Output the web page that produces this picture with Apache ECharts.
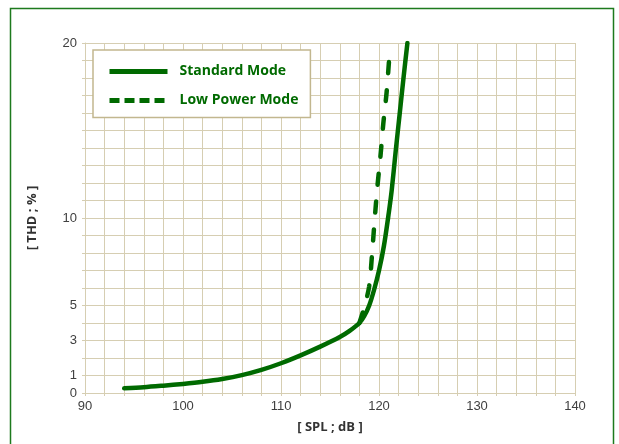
<!DOCTYPE html>
<html><head><meta charset="utf-8">
<script src="https://cdn.jsdelivr.net/npm/echarts@6/dist/echarts.min.js"></script>
<style>html,body{margin:0;padding:0;background:#fff}#c{width:619px;height:444px}</style>
</head><body><div id="c"></div>
<script>
const xTickLabels = [90, 100, 110, 120, 130, 140];
const yTickLabels = [0, 1, 3, 5, 10, 20];
const standardX = [94, 96, 98, 100, 102, 104, 106, 108, 110, 112, 114, 116, 117, 118, 118.5, 119, 119.5, 120, 120.5, 121, 121.3, 121.7, 122.1, 122.5, 122.9];
const standardY = [0.27, 0.33, 0.42, 0.52, 0.64, 0.8, 1.02, 1.32, 1.7, 2.15, 2.65, 3.2, 3.55, 4.0, 4.4, 5.0, 5.9, 7.0, 8.4, 10.3, 11.6, 13.8, 15.9, 18.0, 20.0];
const lowPowerX = [118.0, 118.5, 119.0, 119.3, 119.55, 119.83, 120.16, 120.44, 120.78, 121.1];
const lowPowerY = [4.0, 4.9, 6.1, 8.0, 9.85, 11.75, 13.6, 15.4, 17.2, 19.6];

const green = '#006a00';
const gridColor = '#d6ceb2';
const zip = (xs, ys) => xs.map((x, i) => [x, ys[i]]);

const chart = echarts.init(document.getElementById('c'));
chart.setOption({
  animation: false,
  backgroundColor: '#fff',
  grid: { left: 85, right: 44, top: 43, bottom: 51, containLabel: false },
  graphic: [{
    type: 'rect', silent: true,
    shape: { x: 10.5, y: 8.5, width: 603, height: 445 },
    style: { fill: 'none', stroke: '#1d7a1d', lineWidth: 1.5 }
  }],
  legend: {
    left: 93, top: 50,
    orient: 'vertical',
    backgroundColor: '#fff',
    borderColor: '#c2b78f', borderWidth: 1.5,
    padding: [14.5, 12, 10, 14],
    itemWidth: 58, itemHeight: 14, itemGap: 15,
    itemStyle: { color: 'rgba(0,0,0,0)', borderWidth: 0, opacity: 0 },
    textStyle: { color: green, fontFamily: 'Open Sans', fontWeight: 'bold', fontSize: 14, padding: [0, 0, 0, 7] },
    data: [
      { name: 'Standard Mode', lineStyle: { width: 5, type: 'solid', cap: 'butt' } },
      { name: 'Low Power Mode', lineStyle: { width: 5, type: [10, 5], cap: 'butt' } }
    ]
  },
  xAxis: {
    type: 'value', min: 90, max: 140, interval: 2,
    name: '[ SPL ; dB ]', nameLocation: 'middle', nameGap: 28,
    nameTextStyle: { fontFamily: 'Open Sans', fontWeight: 'bold', fontSize: 13, color: '#333' },
    axisLine: { show: true, lineStyle: { color: gridColor } },
    axisTick: { show: true, length: 3, lineStyle: { color: gridColor } },
    axisLabel: { fontFamily: 'Liberation Sans', fontSize: 13, color: '#404040', margin: 7,
      formatter: v => xTickLabels.includes(v) ? String(v) : '' },
    splitLine: { show: true, lineStyle: { color: gridColor, width: 1 } }
  },
  yAxis: {
    type: 'value', min: 0, max: 20, interval: 1,
    name: '[ THD ; % ]', nameLocation: 'middle', nameGap: 46,
    nameTextStyle: { fontFamily: 'Open Sans', fontWeight: 'bold', fontSize: 13, color: '#333' },
    axisLine: { show: true, lineStyle: { color: gridColor } },
    axisTick: { show: true, length: 3, lineStyle: { color: gridColor } },
    axisLabel: { fontFamily: 'Liberation Sans', fontSize: 13, color: '#404040', margin: 8,
      formatter: v => yTickLabels.includes(v) ? String(v) : '' },
    splitLine: { show: true, lineStyle: { color: gridColor, width: 1 } }
  },
  series: [
    { name: 'Standard Mode', type: 'line', data: zip(standardX, standardY), symbol: 'none', smooth: 0.3,
      lineStyle: { color: green, width: 4.5, cap: 'round', join: 'round' }, itemStyle: { color: green }, z: 3 },
    { name: 'Low Power Mode', type: 'line', data: zip(lowPowerX, lowPowerY), symbol: 'none', smooth: 0.3,
      lineStyle: { color: green, width: 4.5, type: [11, 17], cap: 'round' }, itemStyle: { color: green }, z: 2 }
  ]
});
</script></body></html>
